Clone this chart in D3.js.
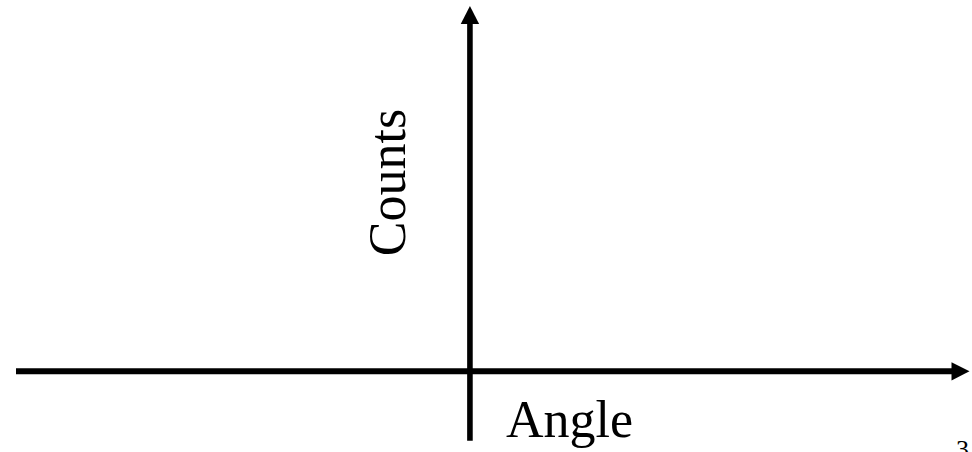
<!DOCTYPE html>
<html>
<head>
<meta charset="utf-8">
<script src="https://cdn.jsdelivr.net/npm/d3@7"></script>
<style>
  html, body { margin: 0; padding: 0; background: #fff; overflow: hidden; }
  svg { display: block; }
  text { font-family: "Liberation Serif", "Times New Roman", serif; fill: #000; }
</style>
</head>
<body>
<script>
// Diagram content (no data series: schematic axes only)
const axisLabels = ["Angle", "Counts"];
const pageNumber = ["3"];
// Axis extents in abstract units: origin at 0
const xExtent = [-453.7, 499.3];
const yExtent = [-69.5, 365.5];

const W = 972, H = 452;
const svg = d3.select("body").append("svg").attr("width", W).attr("height", H);

const x = d3.scaleLinear().domain(xExtent).range([16, 969.5]);
const y = d3.scaleLinear().domain(yExtent).range([440.8, 6]);

const x0 = x(0), y0 = y(0);
const sw = 6, ah = 18, aw = 9.2;

// horizontal axis
svg.append("line")
  .attr("x1", x(xExtent[0])).attr("x2", x(xExtent[1]) - ah + 1)
  .attr("y1", y0).attr("y2", y0)
  .attr("stroke", "#000").attr("stroke-width", sw);
svg.append("path")
  .attr("d", `M${x(xExtent[1])},${y0} L${x(xExtent[1]) - ah},${y0 - aw} L${x(xExtent[1]) - ah},${y0 + aw} Z`)
  .attr("fill", "#000");

// vertical axis
svg.append("line")
  .attr("x1", x0).attr("x2", x0)
  .attr("y1", y(yExtent[0])).attr("y2", y(yExtent[1]) + ah - 1)
  .attr("stroke", "#000").attr("stroke-width", 5.6);
svg.append("path")
  .attr("d", `M${x0},${y(yExtent[1])} L${x0 - aw},${y(yExtent[1]) + ah} L${x0 + aw},${y(yExtent[1]) + ah} Z`)
  .attr("fill", "#000");

// labels
svg.append("text")
  .attr("x", 506).attr("y", 437)
  .attr("font-size", 52)
  .text(axisLabels[0]);

svg.append("text")
  .attr("transform", `translate(405,182.5) rotate(-90)`)
  .attr("text-anchor", "middle")
  .attr("font-size", 52)
  .text(axisLabels[1]);

svg.append("text")
  .attr("x", 956).attr("y", 458)
  .attr("font-size", 26)
  .text(pageNumber[0]);
</script>
</body>
</html>
